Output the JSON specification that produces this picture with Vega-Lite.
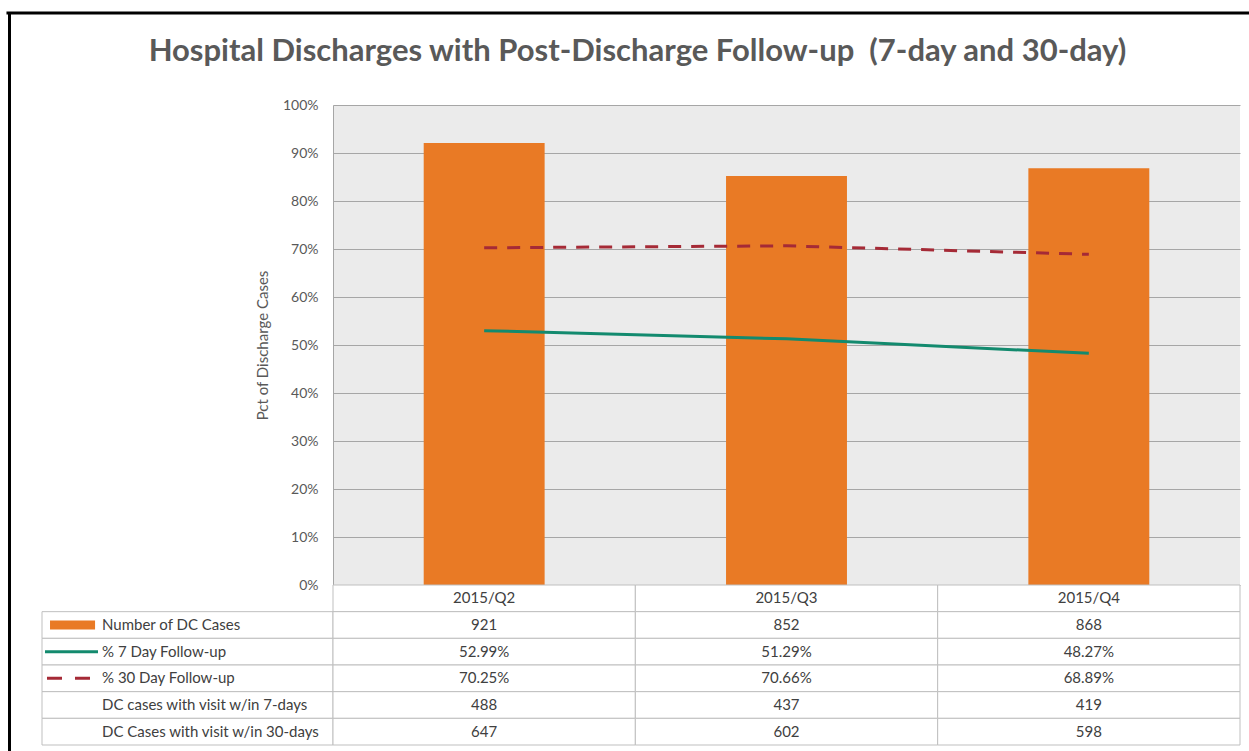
{
  "$schema": "https://vega.github.io/schema/vega-lite/v6.json",
  "width": 907,
  "height": 640,
  "autosize": {"type": "none"},
  "padding": {"left": 333, "top": 105, "right": 9, "bottom": 6},
  "background": "white",
  "title": {
    "text": "Hospital Discharges with Post-Discharge Follow-up \u00a0(7-day and 30-day)",
    "font": "Lato",
    "fontSize": 31,
    "fontWeight": "bold",
    "color": "#595959",
    "anchor": "middle",
    "frame": "group",
    "dx": -149,
    "offset": -57
  },
  "config": {
    "view": {"fill": "#ebebeb", "stroke": null},
    "text": {"font": "Lato", "fontSize": 15, "color": "#404040"}
  },
  "datasets": {
    "main": [
      {"quarter": "2015/Q2", "cases": 921, "pct7": 0.5299, "pct30": 0.7025, "visits7": 488, "visits30": 647},
      {"quarter": "2015/Q3", "cases": 852, "pct7": 0.5129, "pct30": 0.7066, "visits7": 437, "visits30": 602},
      {"quarter": "2015/Q4", "cases": 868, "pct7": 0.4827, "pct30": 0.6889, "visits7": 419, "visits30": 598}
    ],
    "rows": [
      {"metric": "cases", "label": "Number of DC Cases"},
      {"metric": "pct7", "label": "% 7 Day Follow-up"},
      {"metric": "pct30", "label": "% 30 Day Follow-up"},
      {"metric": "visits7", "label": "DC cases with visit w/in 7-days"},
      {"metric": "visits30", "label": "DC Cases with visit w/in 30-days"}
    ]
  },
  "resolve": {"scale": {"x": "independent", "y": "independent"}},
  "layer": [
    {
      "data": {"values": [{}]},
      "layer": [
        {
          "mark": {"type": "rule", "color": "black", "strokeWidth": 3},
          "encoding": {
            "x": {"datum": -1.08, "type": "quantitative", "scale": {"domain": [0, 3], "nice": false, "zero": false}, "axis": null},
            "x2": {"datum": 3.2},
            "y": {"datum": 1.1917, "type": "quantitative", "scale": {"domain": [0, 1], "range": [480, 0], "nice": false, "zero": false}, "axis": null}
          }
        },
        {
          "mark": {"type": "rule", "color": "black", "strokeWidth": 3},
          "encoding": {
            "x": {"datum": -1.07, "type": "quantitative"},
            "y": {"datum": 1.1917, "type": "quantitative"},
            "y2": {"datum": -0.5}
          }
        }
      ]
    },
    {
      "data": {"name": "rows"},
      "layer": [
        {
          "mark": {"type": "rect", "fill": "white", "stroke": "#bfbfbf", "strokeWidth": 1},
          "encoding": {
            "x": {"datum": -0.9625, "type": "quantitative", "scale": {"domain": [0, 3], "nice": false, "zero": false}, "axis": null},
            "x2": {"datum": 0},
            "y": {"field": "metric", "type": "nominal", "scale": {"type": "band", "domain": ["quarter", "cases", "pct7", "pct30", "visits7", "visits30"], "range": [480, 640], "paddingInner": 0, "paddingOuter": 0}, "axis": null}
          }
        },
        {
          "mark": {"type": "text", "align": "left", "baseline": "middle"},
          "encoding": {
            "x": {"datum": -0.764, "type": "quantitative"},
            "y": {"field": "metric", "type": "nominal"},
            "text": {"field": "label", "type": "nominal"}
          }
        },
        {
          "transform": [{"filter": "datum.metric == 'cases'"}],
          "mark": {"type": "rule", "color": "#E97A25", "strokeWidth": 9, "strokeCap": "butt"},
          "encoding": {
            "x": {"datum": -0.936, "type": "quantitative"},
            "x2": {"datum": -0.787},
            "y": {"field": "metric", "type": "nominal"}
          }
        },
        {
          "transform": [{"filter": "datum.metric == 'pct7'"}],
          "mark": {"type": "rule", "color": "#138A6E", "strokeWidth": 3},
          "encoding": {
            "x": {"datum": -0.9526, "type": "quantitative"},
            "x2": {"datum": -0.7773},
            "y": {"field": "metric", "type": "nominal"}
          }
        },
        {
          "transform": [{"filter": "datum.metric == 'pct30'"}],
          "mark": {"type": "rule", "color": "#A52A36", "strokeWidth": 3, "strokeDash": [15, 13]},
          "encoding": {
            "x": {"datum": -0.946, "type": "quantitative"},
            "x2": {"datum": -0.8037},
            "y": {"field": "metric", "type": "nominal"}
          }
        }
      ]
    },
    {
      "data": {"name": "main"},
      "mark": {"type": "bar", "color": "#E97A25"},
      "encoding": {
        "x": {"field": "quarter", "type": "nominal", "scale": {"type": "band", "paddingInner": 0.6, "paddingOuter": 0.3}, "axis": null},
        "y": {"field": "cases", "type": "quantitative", "scale": {"domain": [0, 1000], "range": [480, 0], "nice": false}, "axis": null}
      }
    },
    {
      "data": {"name": "main"},
      "encoding": {
        "x": {"field": "quarter", "type": "nominal", "scale": {"type": "band", "paddingInner": 0.6, "paddingOuter": 0.3}, "axis": null}
      },
      "layer": [
        {
          "mark": {"type": "line", "color": "#138A6E", "strokeWidth": 3},
          "encoding": {
            "y": {
              "field": "pct7",
              "type": "quantitative",
              "scale": {"domain": [0, 1], "range": [480, 0], "nice": false},
              "axis": {
                "orient": "left",
                "values": [0, 0.1, 0.2, 0.3, 0.4, 0.5, 0.6, 0.7, 0.8, 0.9, 1],
                "format": ".0%",
                "grid": true,
                "gridColor": "#a6a6a6",
                "gridWidth": 1,
                "domainColor": "#a6a6a6",
                "ticks": false,
                "tickSize": 0,
                "labelPadding": 15,
                "labelFont": "Lato",
                "labelFontSize": 14,
                "labelColor": "#595959",
                "title": "Pct of Discharge Cases",
                "titleFont": "Lato",
                "titleFontSize": 15,
                "titleFontWeight": "normal",
                "titleColor": "#595959",
                "titlePadding": 12
              }
            }
          }
        },
        {
          "mark": {"type": "line", "color": "#A52A36", "strokeWidth": 3, "strokeDash": [13, 10]},
          "encoding": {
            "y": {"field": "pct30", "type": "quantitative"}
          }
        }
      ]
    },
    {
      "data": {"name": "main"},
      "transform": [{"fold": ["quarter", "cases", "pct7", "pct30", "visits7", "visits30"], "as": ["metric", "value"]}],
      "encoding": {
        "x": {"field": "quarter", "type": "nominal", "scale": {"type": "band", "paddingInner": 0, "paddingOuter": 0}, "axis": null},
        "y": {"field": "metric", "type": "nominal", "scale": {"type": "band", "domain": ["quarter", "cases", "pct7", "pct30", "visits7", "visits30"], "range": [480, 640], "paddingInner": 0, "paddingOuter": 0}, "axis": null}
      },
      "layer": [
        {"mark": {"type": "rect", "fill": "white", "stroke": "#bfbfbf", "strokeWidth": 1}},
        {
          "transform": [{"filter": "datum.metric == 'quarter'"}],
          "mark": {"type": "text", "baseline": "middle"},
          "encoding": {"text": {"field": "value", "type": "nominal"}}
        },
        {
          "transform": [{"filter": "datum.metric == 'cases' || datum.metric == 'visits7' || datum.metric == 'visits30'"}],
          "mark": {"type": "text", "baseline": "middle"},
          "encoding": {"text": {"field": "value", "type": "quantitative", "format": "d"}}
        },
        {
          "transform": [{"filter": "datum.metric == 'pct7' || datum.metric == 'pct30'"}],
          "mark": {"type": "text", "baseline": "middle"},
          "encoding": {"text": {"field": "value", "type": "quantitative", "format": ".2%"}}
        }
      ]
    }
  ]
}
